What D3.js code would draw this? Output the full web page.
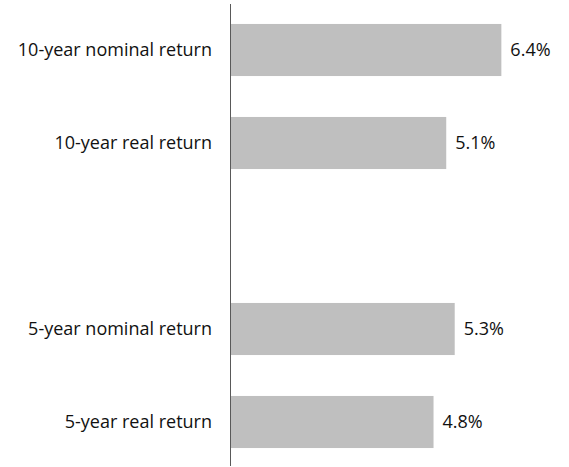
<!DOCTYPE html>
<html>
<head>
<meta charset="utf-8">
<script src="https://cdn.jsdelivr.net/npm/d3@7"></script>
<style>
  body { margin: 0; background: #fff; }
</style>
</head>
<body>
<div id="chart"></div>
<script>
// categories top to bottom, "" is the empty slot between the two groups
const categories = ["10-year nominal return", "10-year real return", "", "5-year nominal return", "5-year real return"];
const values = [6.4, 5.1, null, 5.3, 4.8];
const valueLabels = ["6.4%", "5.1%", "", "5.3%", "4.8%"];

const width = 569,
      height = 467;
const axisX = 230;

const svg = d3.select("#chart")
.append("svg")
  .attr("width", width)
  .attr("height", height);

const x = d3.scaleLinear()
.domain([0, 7])
.range([axisX, axisX + 7 * 42.4]);

const y = d3.scaleBand()
.domain(categories)
.range([3.5, 468.5])
.paddingInner(0.44)
.paddingOuter(0.22);

const rows = categories.map((c, i) => ({cat: c, value: values[i], label: valueLabels[i]}))
  .filter(d => d.value !== null);

svg.selectAll()
.data(rows)
.enter()
.append("rect")
  .attr("x", x(0))
  .attr("y", d => y(d.cat))
  .attr("width", d => x(d.value) - x(0))
  .attr("height", y.bandwidth())
  .attr("fill", "#bfbfbf");

svg.selectAll()
.data(rows)
.enter()
.append("text")
  .attr("x", d => x(d.value) + 9)
  .attr("y", d => y(d.cat) + y.bandwidth() / 2)
  .attr("dy", "0.35em")
  .style("font", "18px 'Open Sans', sans-serif")
  .attr("fill", "#111")
  .text(d => d.label);

const yAxis = svg.append("g")
  .attr("transform", `translate(${axisX}, 0)`)
.call(d3.axisLeft(y)
      .tickSize(0)
      .tickPadding(18));

yAxis.select(".domain")
  .attr("stroke", "#595959")
  .attr("d", "M0.5,4V466");
yAxis.selectAll("text")
  .style("font", "18px 'Open Sans', sans-serif")
  .attr("fill", "#111");
</script>
</body>
</html>
